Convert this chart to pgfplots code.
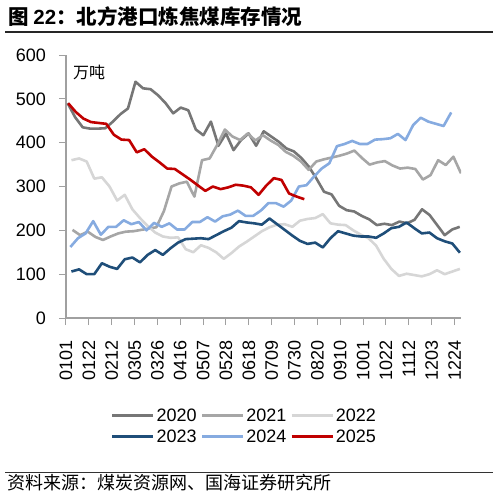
\documentclass[border=0pt]{standalone}
\usepackage{fontspec}
\setmainfont{Liberation Sans}
\newfontfamily\cjk{Noto Sans CJK SC}
\usepackage{pgfplots}
\usepackage{pgfplotstable}
\pgfplotsset{compat=1.18}

\definecolor{cA}{HTML}{767676}
\definecolor{cB}{HTML}{A6A6A6}
\definecolor{cC}{HTML}{D6D6D6}
\definecolor{cD}{HTML}{1F4E79}
\definecolor{cE}{HTML}{86ABE0}
\definecolor{cF}{HTML}{C00000}
\definecolor{axisgray}{HTML}{A0A0A0}

% weekly inventory, one value per week (10k t)
\pgfplotstableread[row sep=\\]{y\\490\\458\\435\\432\\432\\433\\448\\465\\478\\539\\524\\522\\508\\490\\467\\480\\474\\430\\417\\448\\393\\421\\383\\406\\421\\393\\426\\414\\402\\387\\380\\365\\345\\318\\288\\282\\256\\246\\243\\233\\225\\212\\215\\212\\220\\216\\224\\248\\235\\212\\189\\202\\208\\}\dA
\pgfplotstableread[row sep=\\]{y\\201\\189\\197\\185\\178\\186\\193\\197\\198\\201\\204\\207\\244\\300\\307\\311\\277\\360\\364\\395\\430\\414\\406\\421\\405\\417\\405\\395\\379\\370\\357\\338\\357\\362\\366\\370\\375\\382\\365\\350\\355\\358\\348\\341\\343\\340\\316\\326\\360\\349\\368\\330\\}\dB
\pgfplotstableread[row sep=\\]{y\\360\\364\\357\\318\\321\\300\\268\\281\\248\\228\\210\\195\\186\\183\\184\\157\\150\\166\\160\\150\\135\\148\\163\\174\\186\\198\\207\\213\\214\\208\\222\\226\\228\\237\\216\\213\\212\\200\\190\\182\\165\\135\\112\\96\\101\\98\\95\\100\\109\\100\\106\\112\\}\dC
\pgfplotstableread[row sep=\\]{y\\106\\111\\100\\100\\125\\117\\112\\134\\138\\127\\144\\155\\144\\159\\172\\180\\181\\182\\180\\189\\198\\206\\221\\218\\216\\213\\227\\214\\201\\188\\176\\169\\172\\161\\182\\198\\193\\188\\186\\186\\183\\193\\205\\208\\218\\205\\193\\195\\182\\175\\170\\149\\}\dD
\pgfplotstableread[row sep=\\]{y\\162\\182\\193\\221\\190\\208\\208\\223\\214\\219\\200\\217\\208\\216\\202\\202\\219\\219\\230\\220\\232\\236\\245\\233\\233\\245\\262\\262\\254\\268\\300\\303\\323\\341\\353\\392\\397\\404\\397\\397\\407\\408\\410\\420\\406\\440\\457\\448\\443\\438\\469\\}\dE
\pgfplotstableread[row sep=\\]{y\\490\\470\\455\\447\\445\\443\\418\\407\\406\\378\\385\\368\\355\\341\\340\\328\\316\\303\\290\\300\\294\\298\\304\\302\\298\\281\\302\\319\\315\\284\\277\\271\\}\dF

\begin{document}
\begin{tikzpicture}
\path[use as bounding box] (0pt,0pt) rectangle (498pt,-496pt);

\node[anchor=base west, inner sep=0pt, font=\fontsize{20.5}{22}\selectfont] at (8pt,-24pt)
  {\cjk\bfseries 图 {\rmfamily\bfseries 22}：北方港口炼焦煤库存情况};
\draw[line width=1.2pt, black!85] (5pt,-32pt) -- (493pt,-32pt);

\begin{axis}[
  at={(66pt,-318pt)}, anchor=south west,
  scale only axis, width=395pt, height=263pt,
  xmin=0, xmax=363, ymin=0, ymax=600,
  axis lines*=left,
  axis line style={draw=axisgray, line width=1.3pt},
  tick style={draw=axisgray, line width=1pt},
  tick align=outside, major tick length=7pt,
  xtick={0,21,...,357},
  xticklabels={0101,0122,0212,0305,0326,0416,0507,0528,0618,0709,0730,0820,0910,1001,1022,1112,1203,1224},
  ytick={0,100,...,600},
  yticklabels={0,100,200,300,400,500,600},
  xticklabel style={rotate=90, anchor=east, inner sep=0pt, font=\fontsize{18}{18}\selectfont},
  yticklabel style={anchor=east, inner sep=0pt, font=\fontsize{18}{18}\selectfont},
  xticklabel shift=15pt, yticklabel shift=13pt,
  legend columns=3,
  legend image code/.code={\draw[#1] (0pt,0pt) -- (41pt,0pt);},
  legend style={draw=none, fill=none, at={(0.452,-0.411)}, anchor=center,
    font=\fontsize{18}{18}\selectfont, row sep=3pt,
    /tikz/every even column/.append style={column sep=2pt}},
  every axis plot/.append style={line width=2.6pt, line join=round},
]
\addplot[cA] table[x expr=\coordindex*6.93+1.5, y=y] {\dA};
\addlegendentry{2020}
\addplot[cB] table[x expr=\coordindex*7+6, y=y] {\dB};
\addlegendentry{2021}
\addplot[cC] table[x expr=\coordindex*7+5, y=y] {\dC};
\addlegendentry{2022}
\addplot[cD] table[x expr=\coordindex*7+5, y=y] {\dD};
\addlegendentry{2023}
\addplot[cE] table[x expr=\coordindex*7+4, y=y] {\dE};
\addlegendentry{2024}
\addplot[cF] table[x expr=\coordindex*7+2, y=y] {\dF};
\addlegendentry{2025}
\end{axis}

\node[anchor=west, inner sep=0pt, font=\fontsize{16}{17}\selectfont] at (73pt,-72pt) {\cjk 万吨};

\draw[line width=1pt, black!80] (5pt,-472pt) -- (493pt,-472pt);
\node[anchor=base west, inner sep=0pt, font=\fontsize{18}{19}\selectfont] at (7pt,-489pt)
  {\cjk 资料来源：煤炭资源网、国海证券研究所};
\end{tikzpicture}
\end{document}
